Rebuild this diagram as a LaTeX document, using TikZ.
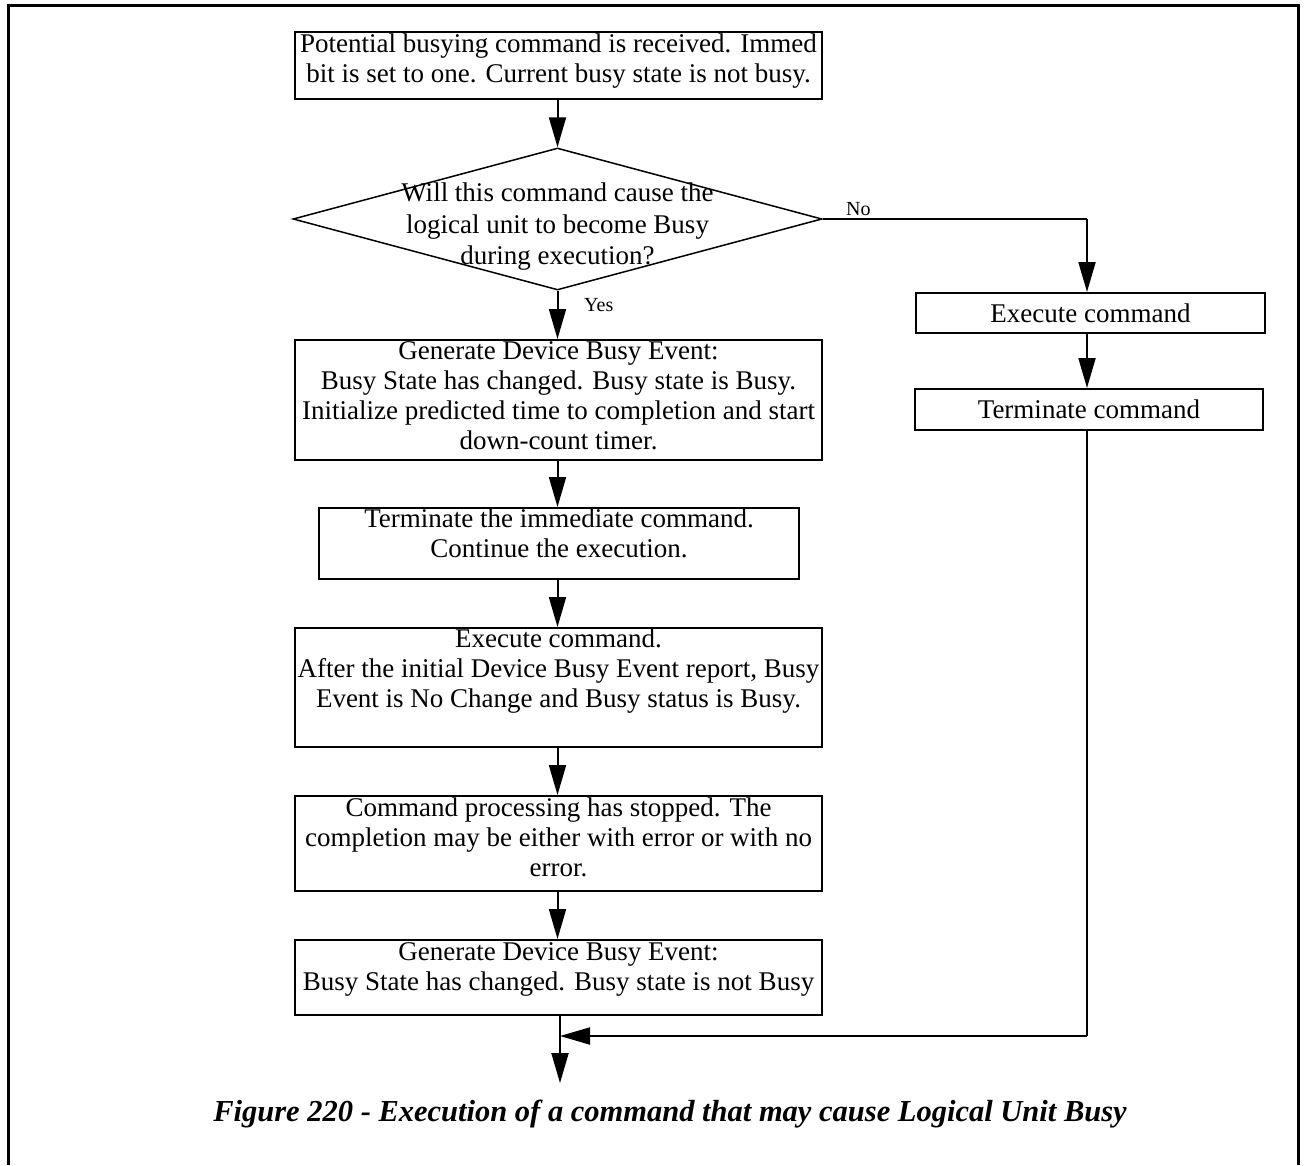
\documentclass[tikz,border=0pt]{standalone}
\usepackage{fontspec}
\setmainfont{Liberation Serif}
\usetikzlibrary{arrows.meta,shapes.geometric}
\begin{document}
\begin{tikzpicture}[x=1pt,y=-1pt,
  box/.style={draw,line width=2pt,rectangle,inner sep=0pt},
  txt/.style={inner sep=0pt,align=center,anchor=north,font=\fontsize{27}{30}\selectfont},
  dtxt/.style={inner sep=0pt,align=center,anchor=north,font=\fontsize{27}{31.5}\selectfont},
  rtxt/.style={font=\fontsize{27}{30}\selectfont},
  lbl/.style={inner sep=0pt,font=\fontsize{20}{22}\selectfont},
  arr/.style={line width=2pt,-{Triangle[width=17pt,length=30pt]}},
  ln/.style={line width=2pt}]
\useasboundingbox (0,0) rectangle (1306,1165);
\draw[line width=3pt] (8,1165) -- (8,5) -- (1298,5) -- (1298,1165);

% left column boxes
\node[box,minimum width=527pt,minimum height=67pt] (b1) at (558.5,65.5) {};
\node[txt] (t1) at (558.5,34) {Potential busying command is received. Immed\\bit is set to one. Current busy state is not busy.};

\node[draw,line width=1.5pt,diamond,inner sep=0pt,minimum width=529pt,minimum height=142pt,aspect=3.72] (d) at (557.5,219) {};
\node[dtxt] (td) at (557.5,183) {Will this command cause the\\logical unit to become Busy\\during execution?};

\node[box,minimum width=527pt,minimum height=120pt] (b2) at (558.5,400) {};
\node[txt] (t2) at (558.5,341) {Generate Device Busy Event:\\Busy State has changed. Busy state is Busy.\\Initialize predicted time to completion and start\\down-count timer.};

\node[box,minimum width=480pt,minimum height=71pt] (b3) at (559,543.5) {};
\node[txt] (t3) at (559,509) {Terminate the immediate command.\\Continue the execution.};

\node[box,minimum width=527pt,minimum height=119pt] (b4) at (558.5,687.5) {};
\node[txt] (t4) at (558.5,629) {Execute command.\\After the initial Device Busy Event report, Busy\\Event is No Change and Busy status is Busy.};

\node[box,minimum width=527pt,minimum height=95pt] (b5) at (558.5,843.5) {};
\node[txt] (t5) at (558.5,798) {Command processing has stopped. The\\completion may be either with error or with no\\error.};

\node[box,minimum width=527pt,minimum height=75pt] (b6) at (558.5,977.5) {};
\node[txt] (t6) at (558.5,942) {Generate Device Busy Event:\\Busy State has changed. Busy state is not Busy};

% right column
\node[box,rtxt,minimum width=349pt,minimum height=40pt] (r1) at (1090.5,313) {Execute command};
\node[box,rtxt,minimum width=348pt,minimum height=41pt] (r2) at (1089,409.5) {Terminate command};

\coordinate (c1) at (1087,219);
\coordinate (c2) at (1087,1036);
\coordinate (c3) at (560,1036);
\coordinate (c4) at (560,1083);

% connectors
\draw[arr] (b1.south -| d.north) -- (d.north);
\draw[arr] (d.south) -- (b2.north -| d.south);
\draw[arr] (b2.south -| d.south) -- (b3.north -| d.south);
\draw[arr] (b3.south -| d.south) -- (b4.north -| d.south);
\draw[arr] (b4.south -| d.south) -- (b5.north -| d.south);
\draw[arr] (b5.south -| d.south) -- (b6.north -| d.south);
\draw[arr] (b6.south -| c4) -- (c4);
\draw[ln] (d.east) -- (c1);
\draw[arr] (c1) -- (r1.north -| c1);
\draw[arr] (r1.south -| c1) -- (r2.north -| c1);
\draw[ln] (r2.south -| c1) -- (c2);
\draw[arr] (c2) -- (c3);

\node[lbl,anchor=west] (no) at (846,209) {No};
\node[lbl,anchor=west] (yes) at (584,305) {Yes};

\node[inner sep=0pt,anchor=base,font=\fontsize{30.5}{34}\selectfont\bfseries\itshape] (cap) at (670,1121) {Figure 220 - Execution of a command that may cause Logical Unit Busy};
\end{tikzpicture}
\end{document}
